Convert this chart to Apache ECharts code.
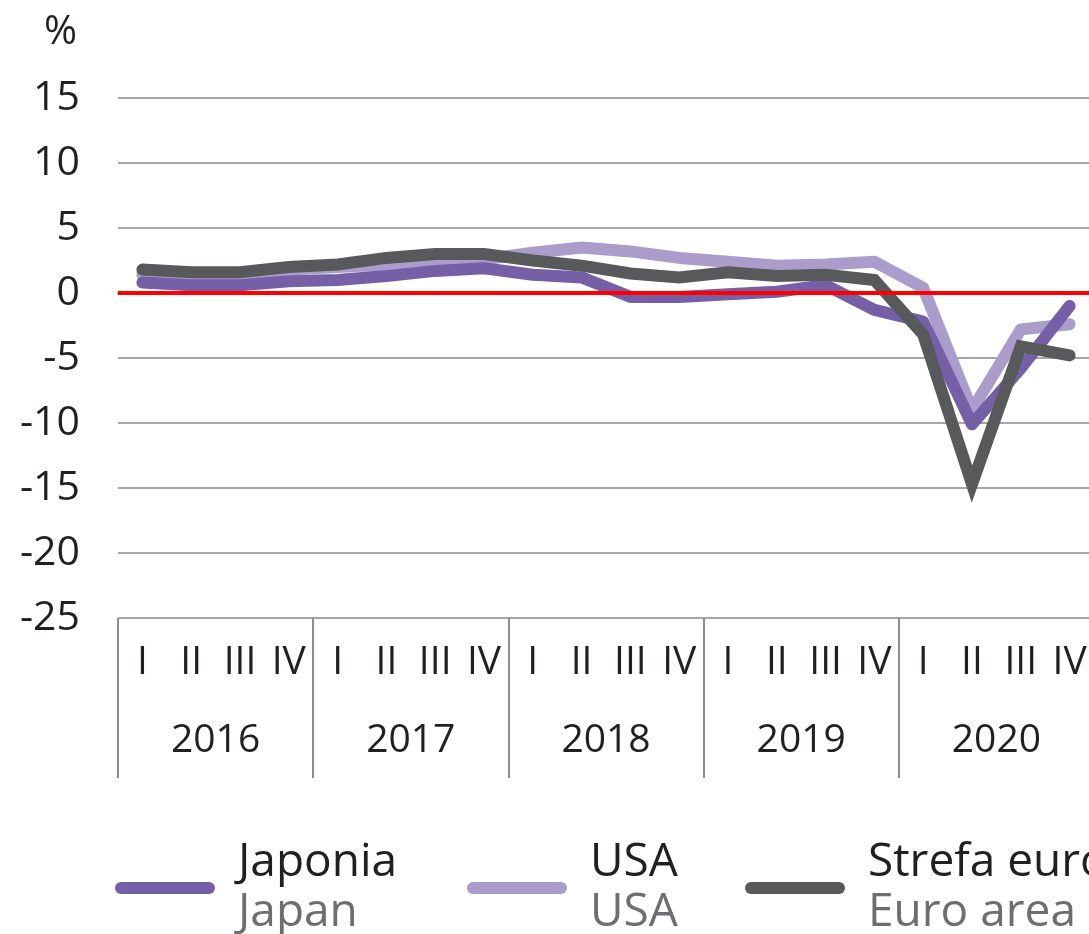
<!DOCTYPE html>
<html>
<head>
<meta charset="utf-8">
<script src="https://cdn.jsdelivr.net/npm/echarts@6/dist/echarts.min.js"></script>
<style>
html,body{margin:0;padding:0;background:#fff;overflow:hidden;width:1089px;height:934px;}
#chart{width:1096px;height:934px;}
</style>
</head>
<body>
<div id="chart"></div>
<script>
// ---- data ----
const years = ['2016', '2017', '2018', '2019', '2020'];
const quarters = ['I', 'II', 'III', 'IV'];
const yTicks = [-25, -20, -15, -10, -5, 0, 5, 10, 15];

const seriesNamesPL = ['Japonia', 'USA', 'Strefa euro'];
const seriesNamesEN = ['Japan', 'USA', 'Euro area'];

const japan = [0.8, 0.6, 0.6, 0.9, 1.0, 1.3, 1.7, 1.9, 1.4, 1.2, -0.3, -0.3, -0.1, 0.1, 0.6, -1.3, -2.2, -10.1, -5.8, -1.0];
const usa   = [1.4, 1.2, 1.4, 1.8, 2.0, 2.2, 2.4, 2.6, 3.1, 3.5, 3.2, 2.7, 2.4, 2.1, 2.2, 2.4, 0.4, -9.0, -2.8, -2.4];
const euro  = [1.8, 1.6, 1.6, 2.0, 2.2, 2.7, 3.0, 3.0, 2.5, 2.1, 1.5, 1.2, 1.6, 1.3, 1.4, 1.0, -3.2, -14.7, -4.1, -4.8];

// ---- build ----
const categories = [];
years.forEach(y => quarters.forEach(q => categories.push(y + ' ' + q)));

const FONT = '"Open Sans", "Noto Sans", sans-serif';
const TXT = '#231f20';
const GRID = '#a6a6a6';
const colors = {Japonia: '#7560a8', USA: '#ab9dcb', 'Strefa euro': '#58595b'};

function legendFor(i, left) {
  return {
    data: [seriesNamesPL[i]],
    left: left,
    top: 840,
    padding: 0,
    icon: 'path://M6,0 L94,0 A6,6 0 0 1 94,12 L6,12 A6,6 0 0 1 6,0 Z',
    itemWidth: 100,
    itemHeight: 12,
    selectedMode: false,
    formatter: name => '{a|' + name + '}\n{b|' + seriesNamesEN[seriesNamesPL.indexOf(name)] + '}',
    textStyle: {
      fontFamily: FONT,
      rich: {
        a: {fontSize: 46, color: TXT, lineHeight: 50, fontFamily: FONT, padding: [0, 0, 0, 18]},
        b: {fontSize: 46, color: '#6d6e71', lineHeight: 50, fontFamily: FONT, padding: [0, 0, 0, 18]}
      }
    }
  };
}

const chart = echarts.init(document.getElementById('chart'), null, {renderer: 'canvas'});
chart.setOption({
  animation: false,
  backgroundColor: '#fff',
  title: {
    text: '%',
    left: 44,
    top: 13,
    padding: 0,
    textStyle: {fontFamily: FONT, fontSize: 40, fontWeight: 'normal', color: TXT, lineHeight: 40}
  },
  legend: [legendFor(0, 115), legendFor(1, 467), legendFor(2, 745)],
  grid: {left: 118, top: 98, width: 976, height: 520, containLabel: false},
  xAxis: [
    {
      type: 'category',
      data: categories,
      boundaryGap: true,
      axisLine: {show: true, lineStyle: {color: GRID, width: 2}},
      axisTick: {show: false},
      axisLabel: {
        interval: 0,
        margin: 25,
        fontFamily: FONT,
        fontSize: 39,
        lineHeight: 40,
        color: TXT,
        formatter: v => v.split(' ')[1]
      },
      splitLine: {show: false}
    },
    {
      type: 'category',
      data: years,
      position: 'bottom',
      boundaryGap: true,
      axisLine: {show: false},
      axisTick: {show: true, length: 160, inside: false, interval: 0, lineStyle: {color: '#8c8c8c', width: 2}},
      axisLabel: {
        interval: 0,
        margin: 103,
        fontFamily: FONT,
        fontSize: 39,
        lineHeight: 40,
        color: TXT
      },
      splitLine: {show: false}
    }
  ],
  yAxis: {
    type: 'value',
    min: yTicks[0],
    max: yTicks[yTicks.length - 1],
    interval: 5,
    axisLine: {show: false},
    axisTick: {show: false},
    axisLabel: {margin: 38, fontFamily: FONT, fontSize: 41, color: TXT},
    splitLine: {show: true, lineStyle: {color: GRID, width: 2}}
  },
  series: [
    {
      name: 'USA', type: 'line', data: usa, xAxisIndex: 0,
      symbol: 'none', color: colors['USA'],
      lineStyle: {width: 12, color: colors['USA'], cap: 'round', join: 'round'}
    },
    {
      name: 'Japonia', type: 'line', data: japan, xAxisIndex: 0,
      symbol: 'none', color: colors['Japonia'],
      lineStyle: {width: 12, color: colors['Japonia'], cap: 'round', join: 'round'}
    },
    {
      name: 'Strefa euro', type: 'line', data: euro, xAxisIndex: 0,
      symbol: 'none', color: colors['Strefa euro'],
      lineStyle: {width: 12, color: colors['Strefa euro'], cap: 'round', join: 'miter'},
      markLine: {
        silent: true,
        symbol: 'none',
        label: {show: false},
        lineStyle: {color: '#ff0000', width: 4, type: 'solid'},
        data: [{yAxis: 0}]
      }
    }
  ]
});
</script>
</body>
</html>
